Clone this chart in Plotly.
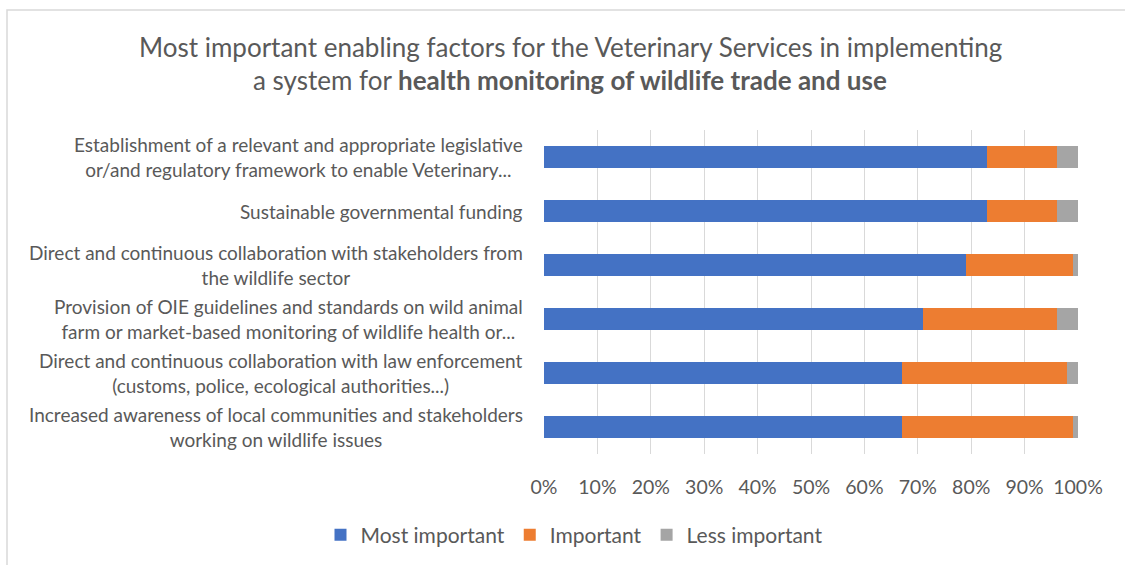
import plotly.graph_objects as go

# Enabling factors (top to bottom) and the share of answers per importance level (%)
factors = [
    "Establishment of a relevant and appropriate legislative<br>or/and regulatory framework to enable Veterinary...",
    "Sustainable governmental funding",
    "Direct and continuous collaboration with stakeholders from<br>the wildlife sector",
    "Provision of OIE guidelines and standards on wild animal<br>farm or market-based monitoring of wildlife health or...",
    "Direct and continuous collaboration with law enforcement<br>(customs, police, ecological authorities...)",
    "Increased awareness of local communities and stakeholders<br>working on wildlife issues",
]
most_important = [83, 83, 79, 71, 67, 67]
important = [13, 13, 20, 25, 31, 32]
less_important = [4, 4, 1, 4, 2, 1]

series_names = ["Most important", "Important", "Less important"]
series_colors = ["#4472C4", "#ED7D31", "#A5A5A5"]
x_ticks = [0, 10, 20, 30, 40, 50, 60, 70, 80, 90, 100]
x_tick_labels = [f"{t}%" for t in x_ticks]

FONT = "Lato"
TEXT = "#595959"

L, R, T, B = 544, 47, 130, 111
W, H = 1125, 565
pw, ph = W - L - R, H - T - B

fig = go.Figure()
for name, vals, col in zip(series_names, [most_important, important, less_important], series_colors):
    fig.add_trace(go.Bar(
        y=factors, x=vals, name=name, orientation="h",
        marker=dict(color=col, line=dict(width=0)),
        hoverinfo="x+name",
    ))

# Category labels: right-aligned block, lines centred within the block
for f in factors:
    fig.add_annotation(
        x=0, xref="paper", y=f, yref="y",
        text=f, showarrow=False, xanchor="right", yanchor="middle",
        align="center", xshift=-19,
        font=dict(family=FONT, size=19, color=TEXT),
    )

# Two-line title, centred over the whole chart
title_x = (570 - L) / pw
fig.add_annotation(
    x=title_x, xref="paper", y=1, yref="paper",
    text="Most important enabling factors for the Veterinary Services in implementing",
    showarrow=False, xanchor="center", yanchor="middle", yshift=83,
    font=dict(family=FONT, size=26, color=TEXT),
)
fig.add_annotation(
    x=title_x, xref="paper", y=1, yref="paper",
    text="a system for <b>health monitoring of wildlife trade and use</b>",
    showarrow=False, xanchor="center", yanchor="middle", yshift=50,
    font=dict(family=FONT, size=26, color=TEXT),
)

# Light chart-area frame
fig.add_shape(
    type="rect", xref="paper", yref="paper",
    x0=(7 - L) / pw, x1=(W + 20 - L) / pw,
    y0=(H - B - (H + 20)) / ph, y1=(H - B - 10) / ph,
    line=dict(color="#D9D9D9", width=1.5), fillcolor="rgba(0,0,0,0)", layer="below",
)

fig.update_layout(
    width=W, height=H,
    margin=dict(l=L, r=R, t=T, b=B),
    barmode="stack", bargap=0.61,
    plot_bgcolor="white", paper_bgcolor="white",
    font=dict(family=FONT, size=19, color=TEXT),
    xaxis=dict(
        range=[0, 100], tickvals=x_ticks, ticktext=x_tick_labels,
        showgrid=True, gridcolor="#D9D9D9", gridwidth=1.3,
        zeroline=False, showline=False, ticks="", ticklabelstandoff=19,
        tickfont=dict(family=FONT, size=19.5, color=TEXT), fixedrange=True,
    ),
    yaxis=dict(
        autorange="reversed", showticklabels=False, showgrid=False,
        showline=False, zeroline=False, ticks="",
    ),
    legend=dict(
        orientation="h", xref="container", yref="container",
        x=574 / W, xanchor="center", y=1 - 535 / H, yanchor="middle",
        font=dict(family=FONT, size=21, color=TEXT),
        traceorder="normal", itemwidth=30,
    ),
    showlegend=True,
)

fig.write_html("out.html")
